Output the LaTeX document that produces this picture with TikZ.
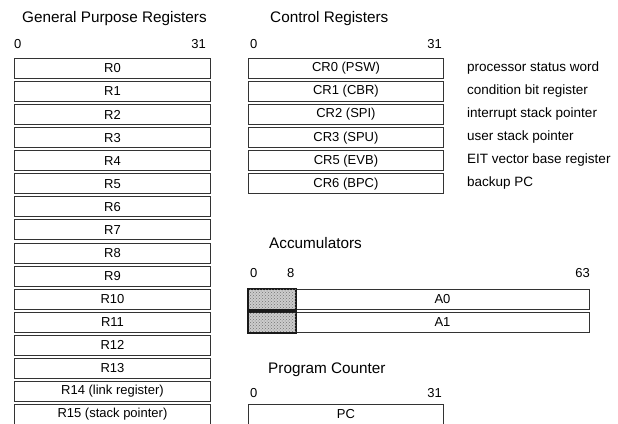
\documentclass[tikz,border=0pt]{standalone}
\usepackage{fontspec}
\setmainfont{Liberation Sans}
\usetikzlibrary{patterns}
\begin{document}
\begin{tikzpicture}[x=1pt,y=-1pt,
  reg/.style={draw=black!80, line width=0.9pt, inner sep=0pt, anchor=north west,
    minimum height=20pt, font=\fontsize{13}{15}\selectfont},
  shaded/.style={reg, fill=black!20, draw=black!90, line width=1.2pt},
  ttl/.style={anchor=west, inner sep=0pt, font=\fontsize{15.3}{18}\selectfont},
  txt/.style={inner sep=0pt, font=\fontsize{13}{15}\selectfont},
  desc/.style={inner sep=0pt, anchor=west, font=\fontsize{13.5}{15}\selectfont}]
\useasboundingbox (0,0) rectangle (618,423);
% titles
\node[ttl] (tgpr) at (22,19) {General Purpose Registers};
\node[ttl] (tcr) at (270,19) {Control Registers};
\node[ttl] (tacc) at (269,243) {Accumulators};
\node[ttl] (tpc) at (268,370) {Program Counter};
% bit labels
\node[txt, anchor=west] (g0) at (14,44) {0};
\node[txt, anchor=east] (g31) at (206,44) {31};
\node[txt, anchor=west] (c0) at (250,44) {0};
\node[txt, anchor=east] (c31) at (442,44) {31};
\node[txt, anchor=west] (a0b) at (250,273) {0};
\node[txt, anchor=west] (a8b) at (287,273) {8};
\node[txt, anchor=east] (a63b) at (590,273) {63};
\node[txt, anchor=west] (p0) at (250,393) {0};
\node[txt, anchor=east] (p31) at (442,393) {31};
% general purpose registers
\foreach \i/\t in {0/R0,1/R1,2/R2,3/R3,4/R4,5/R5,6/R6,7/R7,8/R8,9/R9,10/R10,11/R11,12/R12,13/R13,14/R14 (link register),15/R15 (stack pointer)}{
  \node[reg, minimum width=196pt] (r\i) at (14,58+23.07*\i) {\t};
}
% control registers
\foreach \i/\t/\d in {0/CR0 (PSW)/processor status word,1/CR1 (CBR)/condition bit register,2/CR2 (SPI)/interrupt stack pointer,3/CR3 (SPU)/user stack pointer,4/CR5 (EVB)/EIT vector base register,5/CR6 (BPC)/backup PC}{
  \node[reg, minimum width=195pt] (cr\i) at (248,58+23.07*\i) {\t};
  \node[desc] (d\i) at (467,68+23.07*\i) {\d};
}
% accumulators
\foreach \i/\t in {10/A0,11/A1}{
  \node[reg, minimum width=294pt] (\t) at (295,58+23.07*\i) {\t};
  \node[shaded, minimum width=47pt] (\t s) at (248,58+23.07*\i) {};
  \fill[pattern=crosshatch dots, pattern color=black!55] (\t s.north west) rectangle (\t s.south east);
  \draw[draw=black!90, line width=1.2pt] (\t s.north west) rectangle (\t s.south east);
}
% program counter
\node[reg, minimum width=195pt] (pc) at (248,58+23.07*15) {PC};
\end{tikzpicture}
\end{document}
